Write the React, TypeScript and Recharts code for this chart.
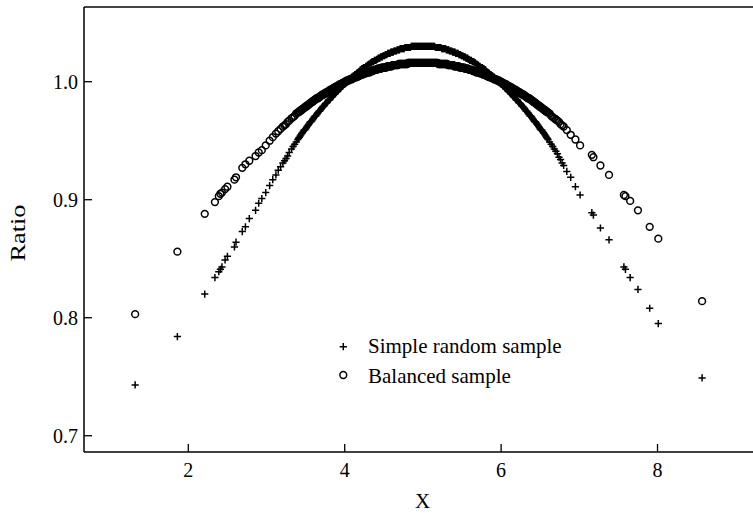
import { ScatterChart, Scatter, XAxis, YAxis, ReferenceLine, Legend } from 'recharts'

// left tail: sparse units, read point by point
const X_LEFT = [
  1.32, 1.86, 2.21, 2.34, 2.39, 2.41, 2.43, 2.47, 2.50, 2.59,
  2.61, 2.69, 2.73, 2.78, 2.86, 2.90, 2.94, 2.99, 3.04, 3.08,
  3.12, 3.15, 3.18, 3.21, 3.23, 3.25, 3.27, 3.29, 3.32, 3.34,
  3.36, 3.38,
]
const SR_LEFT = [
  0.743, 0.784, 0.820, 0.834, 0.839, 0.841, 0.843, 0.849, 0.852, 0.860,
  0.864, 0.873, 0.877, 0.884, 0.891, 0.897, 0.901, 0.906, 0.912, 0.917,
  0.921, 0.925, 0.928, 0.931, 0.933, 0.935, 0.937, 0.940, 0.943, 0.945,
  0.947, 0.949,
]
const BAL_LEFT = [
  0.803, 0.856, 0.888, 0.898, 0.903, 0.905, 0.906, 0.909, 0.911, 0.917,
  0.919, 0.927, 0.930, 0.933, 0.937, 0.940, 0.942, 0.946, 0.950, 0.953,
  0.956, 0.958, 0.960, 0.962, 0.963, 0.964, 0.966, 0.967, 0.969, 0.970,
  0.971, 0.973,
]

// dense middle part (3.40 .. 6.60) where the marks merge into solid bands
const X_CORE = [
  3.40, 3.41, 3.42, 3.43, 3.44, 3.45, 3.46, 3.47, 3.48, 3.49,
  3.50, 3.51, 3.52, 3.53, 3.54, 3.55, 3.56, 3.57, 3.58, 3.59,
  3.60, 3.61, 3.62, 3.63, 3.64, 3.65, 3.66, 3.67, 3.68, 3.69,
  3.70, 3.71, 3.72, 3.73, 3.74, 3.75, 3.76, 3.77, 3.78, 3.79,
  3.80, 3.81, 3.82, 3.83, 3.84, 3.85, 3.86, 3.87, 3.88, 3.89,
  3.90, 3.91, 3.92, 3.93, 3.94, 3.95, 3.96, 3.97, 3.98, 3.99,
  4.00, 4.01, 4.02, 4.03, 4.04, 4.05, 4.06, 4.07, 4.08, 4.09,
  4.10, 4.11, 4.12, 4.13, 4.14, 4.15, 4.16, 4.17, 4.18, 4.19,
  4.20, 4.21, 4.22, 4.23, 4.24, 4.25, 4.26, 4.27, 4.28, 4.29,
  4.30, 4.31, 4.32, 4.33, 4.34, 4.35, 4.36, 4.37, 4.38, 4.39,
  4.40, 4.41, 4.42, 4.43, 4.44, 4.45, 4.46, 4.47, 4.48, 4.49,
  4.50, 4.51, 4.52, 4.53, 4.54, 4.55, 4.56, 4.57, 4.58, 4.59,
  4.60, 4.61, 4.62, 4.63, 4.64, 4.65, 4.66, 4.67, 4.68, 4.69,
  4.70, 4.71, 4.72, 4.73, 4.74, 4.75, 4.76, 4.77, 4.78, 4.79,
  4.80, 4.81, 4.82, 4.83, 4.84, 4.85, 4.86, 4.87, 4.88, 4.89,
  4.90, 4.91, 4.92, 4.93, 4.94, 4.95, 4.96, 4.97, 4.98, 4.99,
  5.00, 5.01, 5.02, 5.03, 5.04, 5.05, 5.06, 5.07, 5.08, 5.09,
  5.10, 5.11, 5.12, 5.13, 5.14, 5.15, 5.16, 5.17, 5.18, 5.19,
  5.20, 5.21, 5.22, 5.23, 5.24, 5.25, 5.26, 5.27, 5.28, 5.29,
  5.30, 5.31, 5.32, 5.33, 5.34, 5.35, 5.36, 5.37, 5.38, 5.39,
  5.40, 5.41, 5.42, 5.43, 5.44, 5.45, 5.46, 5.47, 5.48, 5.49,
  5.50, 5.51, 5.52, 5.53, 5.54, 5.55, 5.56, 5.57, 5.58, 5.59,
  5.60, 5.61, 5.62, 5.63, 5.64, 5.65, 5.66, 5.67, 5.68, 5.69,
  5.70, 5.71, 5.72, 5.73, 5.74, 5.75, 5.76, 5.77, 5.78, 5.79,
  5.80, 5.81, 5.82, 5.83, 5.84, 5.85, 5.86, 5.87, 5.88, 5.89,
  5.90, 5.91, 5.92, 5.93, 5.94, 5.95, 5.96, 5.97, 5.98, 5.99,
  6.00, 6.01, 6.02, 6.03, 6.04, 6.05, 6.06, 6.07, 6.08, 6.09,
  6.10, 6.11, 6.12, 6.13, 6.14, 6.15, 6.16, 6.17, 6.18, 6.19,
  6.20, 6.21, 6.22, 6.23, 6.24, 6.25, 6.26, 6.27, 6.28, 6.29,
  6.30, 6.31, 6.32, 6.33, 6.34, 6.35, 6.36, 6.37, 6.38, 6.39,
  6.40, 6.41, 6.42, 6.43, 6.44, 6.45, 6.46, 6.47, 6.48, 6.49,
  6.50, 6.51, 6.52, 6.53, 6.54, 6.55, 6.56, 6.57, 6.58, 6.59,
  6.60,
]
const SR_CORE = [
  0.951, 0.952, 0.953, 0.954, 0.955, 0.956, 0.957, 0.958, 0.959, 0.959,
  0.960, 0.961, 0.962, 0.963, 0.964, 0.965, 0.966, 0.966, 0.967, 0.968,
  0.969, 0.970, 0.971, 0.971, 0.972, 0.973, 0.974, 0.975, 0.975, 0.976,
  0.977, 0.978, 0.979, 0.979, 0.980, 0.981, 0.982, 0.982, 0.983, 0.984,
  0.985, 0.985, 0.986, 0.987, 0.987, 0.988, 0.989, 0.990, 0.990, 0.991,
  0.992, 0.992, 0.993, 0.994, 0.994, 0.995, 0.996, 0.996, 0.997, 0.998,
  0.998, 0.999, 0.999, 1.000, 1.001, 1.001, 1.002, 1.002, 1.003, 1.004,
  1.004, 1.005, 1.005, 1.006, 1.006, 1.007, 1.007, 1.008, 1.008, 1.009,
  1.010, 1.010, 1.011, 1.011, 1.012, 1.012, 1.012, 1.013, 1.013, 1.014,
  1.014, 1.015, 1.015, 1.016, 1.016, 1.017, 1.017, 1.017, 1.018, 1.018,
  1.018, 1.019, 1.019, 1.020, 1.020, 1.020, 1.021, 1.021, 1.021, 1.022,
  1.022, 1.022, 1.023, 1.023, 1.023, 1.024, 1.024, 1.024, 1.024, 1.025,
  1.025, 1.025, 1.025, 1.026, 1.026, 1.026, 1.026, 1.027, 1.027, 1.027,
  1.027, 1.028, 1.028, 1.028, 1.028, 1.028, 1.028, 1.029, 1.029, 1.029,
  1.029, 1.029, 1.029, 1.029, 1.029, 1.030, 1.030, 1.030, 1.030, 1.030,
  1.030, 1.030, 1.030, 1.030, 1.030, 1.030, 1.030, 1.030, 1.030, 1.030,
  1.030, 1.030, 1.030, 1.030, 1.030, 1.030, 1.030, 1.030, 1.030, 1.030,
  1.030, 1.030, 1.030, 1.030, 1.030, 1.030, 1.029, 1.029, 1.029, 1.029,
  1.029, 1.029, 1.029, 1.029, 1.028, 1.028, 1.028, 1.028, 1.028, 1.028,
  1.027, 1.027, 1.027, 1.027, 1.026, 1.026, 1.026, 1.026, 1.025, 1.025,
  1.025, 1.025, 1.024, 1.024, 1.024, 1.024, 1.023, 1.023, 1.023, 1.022,
  1.022, 1.022, 1.021, 1.021, 1.021, 1.020, 1.020, 1.020, 1.019, 1.019,
  1.018, 1.018, 1.018, 1.017, 1.017, 1.017, 1.016, 1.016, 1.015, 1.015,
  1.014, 1.014, 1.013, 1.013, 1.012, 1.012, 1.012, 1.011, 1.011, 1.010,
  1.010, 1.009, 1.008, 1.008, 1.007, 1.007, 1.006, 1.006, 1.005, 1.005,
  1.004, 1.004, 1.003, 1.002, 1.002, 1.001, 1.001, 1.000, 0.999, 0.999,
  0.998, 0.998, 0.997, 0.996, 0.996, 0.995, 0.994, 0.994, 0.993, 0.992,
  0.992, 0.991, 0.990, 0.990, 0.989, 0.988, 0.987, 0.987, 0.986, 0.985,
  0.985, 0.984, 0.983, 0.982, 0.982, 0.981, 0.980, 0.979, 0.979, 0.978,
  0.977, 0.976, 0.975, 0.975, 0.974, 0.973, 0.972, 0.971, 0.971, 0.970,
  0.969, 0.968, 0.967, 0.966, 0.966, 0.965, 0.964, 0.963, 0.962, 0.961,
  0.960, 0.959, 0.959, 0.958, 0.957, 0.956, 0.955, 0.954, 0.953, 0.952,
  0.951,
]
const BAL_CORE = [
  0.974, 0.974, 0.975, 0.975, 0.976, 0.976, 0.977, 0.977, 0.978, 0.978,
  0.979, 0.979, 0.980, 0.980, 0.981, 0.981, 0.982, 0.982, 0.983, 0.983,
  0.984, 0.984, 0.985, 0.985, 0.986, 0.986, 0.986, 0.987, 0.987, 0.988,
  0.988, 0.989, 0.989, 0.989, 0.990, 0.990, 0.991, 0.991, 0.991, 0.992,
  0.992, 0.993, 0.993, 0.993, 0.994, 0.994, 0.995, 0.995, 0.995, 0.996,
  0.996, 0.996, 0.997, 0.997, 0.998, 0.998, 0.998, 0.999, 0.999, 0.999,
  1.000, 1.000, 1.000, 1.001, 1.001, 1.001, 1.002, 1.002, 1.002, 1.002,
  1.003, 1.003, 1.003, 1.004, 1.004, 1.004, 1.004, 1.005, 1.005, 1.005,
  1.006, 1.006, 1.006, 1.006, 1.007, 1.007, 1.007, 1.007, 1.008, 1.008,
  1.008, 1.008, 1.008, 1.009, 1.009, 1.009, 1.009, 1.010, 1.010, 1.010,
  1.010, 1.010, 1.011, 1.011, 1.011, 1.011, 1.011, 1.012, 1.012, 1.012,
  1.012, 1.012, 1.012, 1.012, 1.013, 1.013, 1.013, 1.013, 1.013, 1.013,
  1.013, 1.014, 1.014, 1.014, 1.014, 1.014, 1.014, 1.014, 1.014, 1.015,
  1.015, 1.015, 1.015, 1.015, 1.015, 1.015, 1.015, 1.015, 1.015, 1.015,
  1.015, 1.016, 1.016, 1.016, 1.016, 1.016, 1.016, 1.016, 1.016, 1.016,
  1.016, 1.016, 1.016, 1.016, 1.016, 1.016, 1.016, 1.016, 1.016, 1.016,
  1.016, 1.016, 1.016, 1.016, 1.016, 1.016, 1.016, 1.016, 1.016, 1.016,
  1.016, 1.016, 1.016, 1.016, 1.016, 1.016, 1.016, 1.016, 1.016, 1.016,
  1.015, 1.015, 1.015, 1.015, 1.015, 1.015, 1.015, 1.015, 1.015, 1.015,
  1.015, 1.015, 1.014, 1.014, 1.014, 1.014, 1.014, 1.014, 1.014, 1.014,
  1.013, 1.013, 1.013, 1.013, 1.013, 1.013, 1.013, 1.012, 1.012, 1.012,
  1.012, 1.012, 1.012, 1.012, 1.011, 1.011, 1.011, 1.011, 1.011, 1.010,
  1.010, 1.010, 1.010, 1.010, 1.009, 1.009, 1.009, 1.009, 1.008, 1.008,
  1.008, 1.008, 1.008, 1.007, 1.007, 1.007, 1.007, 1.006, 1.006, 1.006,
  1.006, 1.005, 1.005, 1.005, 1.004, 1.004, 1.004, 1.004, 1.003, 1.003,
  1.003, 1.002, 1.002, 1.002, 1.002, 1.001, 1.001, 1.001, 1.000, 1.000,
  1.000, 0.999, 0.999, 0.999, 0.998, 0.998, 0.998, 0.997, 0.997, 0.996,
  0.996, 0.996, 0.995, 0.995, 0.995, 0.994, 0.994, 0.993, 0.993, 0.993,
  0.992, 0.992, 0.991, 0.991, 0.991, 0.990, 0.990, 0.989, 0.989, 0.989,
  0.988, 0.988, 0.987, 0.987, 0.986, 0.986, 0.986, 0.985, 0.985, 0.984,
  0.984, 0.983, 0.983, 0.982, 0.982, 0.981, 0.981, 0.980, 0.980, 0.979,
  0.979, 0.978, 0.978, 0.977, 0.977, 0.976, 0.976, 0.975, 0.975, 0.974,
  0.974,
]

// right tail
const X_RIGHT = [
  6.62, 6.64, 6.66, 6.68, 6.70, 6.72, 6.74, 6.76, 6.78, 6.80,
  6.84, 6.89, 6.95, 7.01, 7.16, 7.18, 7.27, 7.38, 7.57, 7.59,
  7.65, 7.75, 7.90, 8.01, 8.57,
]
const SR_RIGHT = [
  0.949, 0.947, 0.945, 0.943, 0.941, 0.939, 0.936, 0.934, 0.931, 0.929,
  0.924, 0.919, 0.911, 0.904, 0.889, 0.887, 0.876, 0.866, 0.843, 0.841,
  0.834, 0.824, 0.808, 0.795, 0.749,
]
const BAL_RIGHT = [
  0.973, 0.971, 0.970, 0.969, 0.968, 0.967, 0.966, 0.964, 0.963, 0.962,
  0.959, 0.955, 0.951, 0.946, 0.938, 0.936, 0.929, 0.921, 0.904, 0.903,
  0.899, 0.891, 0.877, 0.867, 0.814,
]

const X_TICKS = [2, 4, 6, 8]
const Y_TICKS = [0.7, 0.8, 0.9, 1.0]
const SERIES_NAMES = ['Simple random sample', 'Balanced sample']

const X_DOMAIN = [0.666, 9.221]
const Y_DOMAIN = [0.6862, 1.0633]

const allX = [...X_LEFT, ...X_CORE, ...X_RIGHT]
const allSR = [...SR_LEFT, ...SR_CORE, ...SR_RIGHT]
const allBal = [...BAL_LEFT, ...BAL_CORE, ...BAL_RIGHT]
const srData = allX.map((x, i) => ({ x, ratio: allSR[i] }))
const balData = allX.map((x, i) => ({ x, ratio: allBal[i] }))

const FONT = "'Liberation Serif', 'Times New Roman', Times, serif"

function PlusMark({ cx, cy }: any) {
  return (
    <path
      d={`M${cx - 3.6},${cy}H${cx + 3.6}M${cx},${cy - 3.6}V${cy + 3.6}`}
      stroke="#000"
      strokeWidth={1.5}
      fill="none"
    />
  )
}

function RingMark({ cx, cy }: any) {
  return <circle cx={cx} cy={cy} r={3.4} fill="none" stroke="#000" strokeWidth={1.5} />
}

function LegendBox() {
  return (
    <svg width={260} height={64} style={{ overflow: 'visible' }}>
      <PlusMark cx={13.3} cy={16.7} />
      <text x={38} y={22.5} fontFamily={FONT} fontSize={21} fill="#000">
        {SERIES_NAMES[0]}
      </text>
      <RingMark cx={13.3} cy={45} />
      <text x={38} y={53} fontFamily={FONT} fontSize={21} fill="#000">
        {SERIES_NAMES[1]}
      </text>
    </svg>
  )
}

export default function App() {
  const tickStyle = { fill: '#000', fontSize: 20, fontFamily: FONT }
  return (
    <div style={{ position: 'absolute', left: 0, top: 0 }}>
      <ScatterChart width={753} height={513} margin={{ top: 7, right: 0, bottom: 0, left: 0 }}>
        <XAxis
          type="number"
          dataKey="x"
          domain={X_DOMAIN}
          allowDataOverflow
          ticks={X_TICKS}
          tickSize={-8}
          tickMargin={19}
          height={61}
          tick={tickStyle}
          axisLine={{ stroke: '#000', strokeWidth: 1.5 }}
          tickLine={{ stroke: '#000', strokeWidth: 1.3 }}
          label={{
            content: () => (
              <text x={422.5} y={508} textAnchor="middle" fontFamily={FONT} fontSize={21} fill="#000">
                X
              </text>
            ),
          }}
        />
        <YAxis
          type="number"
          dataKey="ratio"
          domain={Y_DOMAIN}
          allowDataOverflow
          ticks={Y_TICKS}
          tickFormatter={(v: number) => v.toFixed(1)}
          tickSize={-8}
          tickMargin={14}
          width={84}
          tick={tickStyle}
          axisLine={{ stroke: '#000', strokeWidth: 1.5 }}
          tickLine={{ stroke: '#000', strokeWidth: 1.3 }}
          label={{
            content: () => (
              <text
                x={25}
                y={233}
                transform="rotate(-90 25 233)"
                textAnchor="middle"
                fontFamily={FONT}
                fontSize={21}
                fill="#000"
                textLength={57}
                lengthAdjust="spacingAndGlyphs"
              >
                Ratio
              </text>
            ),
          }}
        />
        <ReferenceLine y={Y_DOMAIN[1]} stroke="#444" strokeWidth={2} />
        <Scatter name={SERIES_NAMES[0]} data={srData} shape={PlusMark} isAnimationActive={false} />
        <Scatter name={SERIES_NAMES[1]} data={balData} shape={RingMark} isAnimationActive={false} />
        <Legend
          layout="vertical"
          align="center"
          verticalAlign="middle"
          content={() => <LegendBox />}
          wrapperStyle={{ position: 'absolute', left: 330, top: 330, width: 260, height: 64 }}
        />
      </ScatterChart>
    </div>
  )
}
